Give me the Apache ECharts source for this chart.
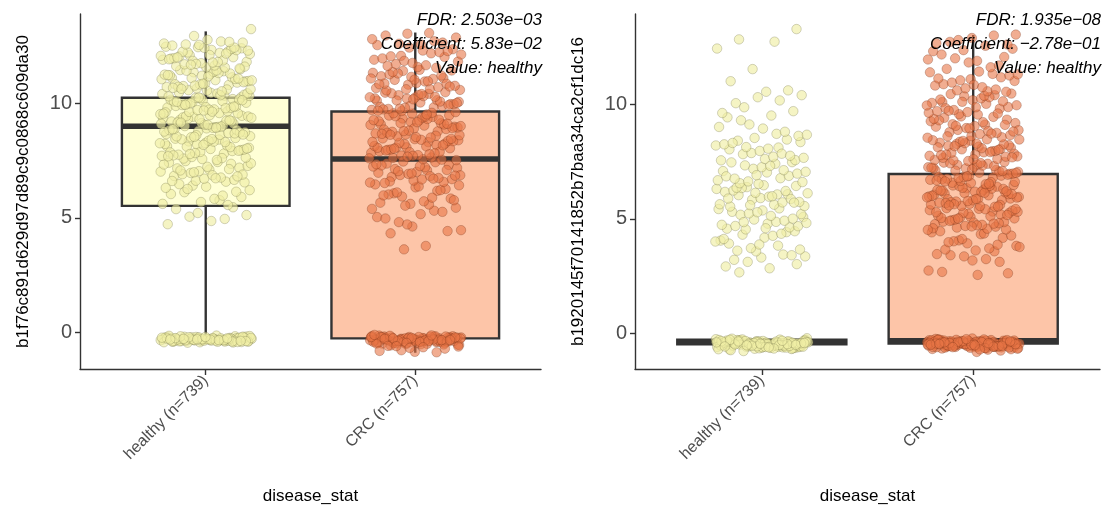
<!DOCTYPE html>
<html><head><meta charset="utf-8">
<script src="https://cdn.jsdelivr.net/npm/echarts@6/dist/echarts.min.js"></script>
<style>html,body{margin:0;padding:0;background:#fff}#c{width:1106px;height:510px}</style>
</head><body><div id="c"></div>
<script>
const categories = ['healthy (n=739)', 'CRC (n=757)'];
const yTickValues = [0, 5, 10];
const xTickValues = [1, 2];
const yTitles = ['b1f76c891d629d97d89c9c0868c609da30', 'b1920145f70141852b7baa34ca2cf1dc16'];
const xTitle = 'disease_stat';
const annotations = [
  ['FDR: 2.503e\u221203', 'Coefficient: 5.83e\u221202', 'Value: healthy'],
  ['FDR: 1.935e\u221208', 'Coefficient: \u22122.78e\u221201', 'Value: healthy']
];
// box stats: [min, Q1, median, Q3, max]
const box1Healthy = [-0.18, 5.52, 9.0, 10.25, 13.15];
const box1CRC = [-0.9, -0.27, 7.57, 9.65, 13.1];
const box2Healthy = [-0.38, -0.48, -0.38, -0.28, -0.38];
const box2CRC = [-0.45, -0.45, -0.33, 6.96, 13.04];

const h1Zero = [-0.31,-0.22,-0.40,-0.28,-0.35,-0.18,-0.44,-0.26,-0.33,-0.38,-0.21,-0.30,-0.42,-0.25,-0.36,-0.29,-0.15,-0.39,-0.27,-0.34,
-0.23,-0.41,-0.32,-0.19,-0.37,-0.28,-0.45,-0.24,-0.31,-0.35,-0.20,-0.43,-0.29,-0.26,-0.38,-0.33,-0.17,-0.30,-0.40,-0.27,
-0.36,-0.22,-0.34,-0.46,-0.25,-0.31,-0.39,-0.28,-0.21,-0.35,-0.42,-0.30,-0.24,-0.37,-0.16,-0.33,-0.29,-0.41,-0.26,-0.32,
-0.38,-0.23,-0.44,-0.27,-0.35,-0.20,-0.31,-0.40,-0.29,-0.34,-0.25,-0.37,-0.18,-0.43,-0.30,-0.28,-0.36,-0.22,-0.39,-0.33,
-0.26,-0.41,-0.31,-0.24,-0.35,-0.29,-0.38,-0.21,-0.32,-0.27];
const h1Spread = [4.72,4.95,5.05,5.12,4.86,5.38,5.46,5.21,
5.61,5.77,6.12,5.91,6.36,6.04,5.56,6.41,6.21,5.83,6.47,6.14,5.69,6.31,5.97,6.26,
6.55,7.11,6.83,7.36,6.62,7.02,7.44,6.91,7.19,6.71,7.41,6.58,6.96,7.27,6.86,7.16,6.66,7.04,7.33,6.76,7.48,6.89,7.23,6.61,7.13,6.99,7.38,6.73,7.07,6.81,
7.57,8.13,7.81,8.34,7.63,8.01,8.46,7.92,8.21,7.71,8.42,7.59,7.96,8.27,7.86,8.16,7.66,8.06,8.33,7.76,8.49,7.88,8.23,7.61,8.11,7.98,8.37,7.73,8.09,7.83,8.26,7.53,8.43,7.93,8.19,7.69,8.31,7.79,8.03,8.44,
8.56,9.12,8.79,9.36,8.63,9.01,9.46,8.91,9.21,8.71,9.42,8.57,8.96,9.27,8.84,9.14,8.66,9.04,9.33,8.74,9.49,8.89,9.23,8.61,9.11,8.97,9.39,8.73,9.07,8.83,9.24,8.52,9.43,8.93,9.17,8.69,9.31,8.77,8.99,9.44,8.64,9.06,8.87,9.26,8.54,9.37,8.94,9.16,
9.57,10.13,9.82,10.34,9.63,10.03,10.46,9.89,10.19,9.71,10.41,9.58,9.96,10.27,9.84,10.16,9.66,10.06,10.33,9.74,10.48,9.87,10.23,9.61,10.11,9.98,10.38,9.73,10.09,9.81,10.24,9.53,10.43,9.93,10.17,9.69,10.31,9.79,10.01,10.44,9.64,10.07,9.86,10.26,9.55,10.36,9.94,10.14,
10.56,11.12,10.81,11.36,10.62,11.02,11.46,10.91,11.21,10.72,11.41,10.58,10.97,11.28,10.84,11.14,10.66,11.06,11.33,10.76,11.49,10.88,11.23,10.61,11.11,10.98,11.38,10.73,11.07,10.83,11.26,10.53,11.43,10.93,11.18,10.68,11.31,10.78,11.01,11.44,10.64,11.09,10.86,11.24,
11.57,12.11,11.82,12.34,11.63,12.02,12.46,11.91,12.21,11.71,12.41,11.58,11.96,12.27,11.86,12.16,11.66,12.06,12.33,11.76,12.48,11.88,12.23,11.61,12.12,11.98,12.38,11.73,12.08,11.81,12.26,11.53,12.43,11.93,12.18,11.69,12.31,11.79,12.01,12.44,
12.56,12.62,12.71,12.58,12.66,12.78,12.53,12.69,12.95,13.25];

const c1Zero = [-0.28,-0.41,-0.19,-0.35,-0.52,-0.24,-0.31,-0.46,-0.22,-0.38,-0.15,-0.43,-0.29,-0.55,-0.26,-0.33,-0.48,-0.21,-0.37,-0.3,
-0.44,-0.18,-0.34,-0.5,-0.27,-0.4,-0.23,-0.36,-0.58,-0.25,-0.32,-0.45,-0.2,-0.39,-0.29,-0.53,-0.24,-0.42,-0.31,-0.17,
-0.37,-0.47,-0.26,-0.34,-0.22,-0.41,-0.3,-0.56,-0.28,-0.36,-0.19,-0.44,-0.33,-0.25,-0.49,-0.38,-0.21,-0.32,-0.43,-0.27,
-0.35,-0.51,-0.23,-0.4,-0.29,-0.46,-0.18,-0.34,-0.24,-0.39,-0.31,-0.54,-0.26,-0.42,-0.2,-0.37,-0.3,-0.48,-0.22,-0.33,
-0.45,-0.28,-0.36,-0.16,-0.41,-0.25,-0.5,-0.32,-0.38,-0.23,-0.43,-0.29,-0.35,-0.47,-0.21,-0.4,-0.27,-0.34,-0.86,-0.82,
-0.88,-0.79,-0.63,-0.66,-0.6,-0.72,-0.69,-0.12,-0.14,-0.61];
const c1Spread = [3.62,4.46,3.77,4.32,4.42,
4.62,5.03,5.31,4.81,5.44,5.16,4.97,5.26,4.71,5.39,
5.58,6.07,5.84,6.33,5.66,6.18,5.93,6.42,5.72,6.02,6.26,5.61,6.46,5.88,6.11,5.77,6.37,5.98,6.21,5.53,
6.54,7.08,6.79,7.31,6.63,6.97,7.43,6.87,7.18,6.68,7.37,6.57,6.92,7.24,6.82,7.13,6.69,7.01,7.29,6.74,7.46,6.86,7.21,6.59,7.09,6.94,7.34,6.71,7.04,6.84,7.26,6.52,
7.54,8.08,7.84,8.31,7.62,8.04,8.44,7.91,8.18,7.72,8.39,7.56,7.97,8.24,7.87,8.14,7.64,8.07,8.35,7.74,8.47,7.89,8.22,7.6,8.12,7.99,8.36,7.71,8.06,7.82,8.28,7.52,8.41,7.94,8.17,7.67,8.32,7.78,8.02,8.45,
8.53,9.09,8.78,9.34,8.61,9.03,9.47,8.88,9.19,8.69,9.41,8.56,8.98,9.26,8.86,9.13,8.64,9.06,9.32,8.76,9.48,8.91,9.22,8.59,9.14,8.95,9.38,8.72,9.08,8.81,9.27,8.51,9.44,8.92,9.18,8.67,9.29,8.79,9.01,9.43,8.63,9.11,
9.56,10.12,9.83,10.36,9.62,10.04,10.47,9.88,10.21,9.72,10.42,9.57,9.97,10.26,9.85,10.14,9.67,10.07,10.32,9.76,10.49,9.89,10.22,9.59,10.13,9.96,10.37,9.74,10.08,9.81,10.27,9.52,10.44,9.92,10.18,9.68,10.29,9.77,10.02,10.41,
10.57,11.11,10.82,11.34,10.63,11.03,11.44,10.89,11.19,10.71,11.42,10.59,10.96,11.27,10.86,11.16,10.67,11.07,11.31,10.77,11.47,10.87,11.22,10.62,11.09,10.97,11.37,10.74,11.04,10.84,
11.56,12.08,11.83,12.31,11.64,12.03,12.44,11.91,12.19,11.72,12.37,11.59,11.97,12.24,11.86,12.14,11.67,12.06,12.29,11.77,
12.55,12.72,12.61,12.88,12.58,12.97,12.66,13.05,12.81,13.08];

const h2Zero = [-0.42,-0.55,-0.31,-0.48,-0.63,-0.37,-0.45,-0.58,-0.29,-0.51,-0.4,-0.67,-0.35,-0.47,-0.6,-0.33,-0.52,-0.44,-0.71,-0.38,
-0.49,-0.26,-0.56,-0.41,-0.64,-0.36,-0.5,-0.43,-0.59,-0.32,-0.46,-0.54,-0.39,-0.68,-0.3,-0.53,-0.45,-0.61,-0.34,-0.48,
-0.57,-0.4,-0.22,-0.5,-0.44,-0.65,-0.37,-0.52,-0.28,-0.47,-0.56,-0.41,-0.74,-0.35,-0.49,-0.6,-0.43,-0.31,-0.54,-0.46,
-0.39,-0.62,-0.5,-0.33,-0.57,-0.44,-0.69,-0.38,-0.53,-0.42,-0.27,-0.58,-0.47,-0.36,-0.63,-0.51,-0.4,-0.55,-0.3,-0.45,
-0.66,-0.41,-0.52,-0.34,-0.59,-0.48,-0.24,-0.56,-0.43,-0.7,-0.37,-0.5,-0.45,-0.61,-0.32,-0.54,-0.46,-0.39,-0.64,-0.49,
-0.42,-0.57,-0.35,-0.52,-0.78,-0.44,-0.6,-0.29,-0.48,-0.55,-0.4,-0.67,-0.36,-0.51,-0.46,-0.58,-0.33,-0.53,-0.43,-0.62];
const h2Spread = [2.66,3.02,3.31,2.92,3.44,3.12,3.36,2.84,3.21,3.41,
3.58,4.05,3.83,4.31,3.66,4.18,3.92,4.42,3.72,4.01,4.26,3.61,4.46,3.88,4.12,4.35,
4.54,5.08,4.79,5.31,4.63,4.97,5.43,4.87,5.18,4.68,5.37,4.57,4.92,5.24,4.82,5.13,4.69,5.01,5.29,4.74,5.46,4.86,5.21,4.59,
5.54,6.08,5.84,6.31,5.62,6.04,6.44,5.91,6.18,5.72,6.39,5.56,5.97,6.24,5.87,6.14,5.64,6.07,6.35,5.74,6.47,5.89,6.22,5.6,6.12,5.99,6.36,5.71,
6.53,7.09,6.78,7.34,6.61,7.03,7.47,6.88,7.19,6.69,7.41,6.56,6.98,7.26,6.86,7.13,6.64,7.06,7.32,6.76,7.48,6.91,
7.56,8.12,7.83,8.36,7.62,8.04,8.47,7.88,8.21,7.72,8.42,7.57,7.97,8.26,7.85,8.14,7.67,8.07,8.32,7.76,
8.54,9.02,8.72,9.31,8.63,8.95,9.44,8.81,9.13,8.68,
9.52,10.06,9.71,10.32,9.63,10.18,9.88,10.41,
10.56,11.02,10.62,
11.55,12.45,12.75,12.85,13.3];

const c2Zero = [-0.47,-0.34,-0.58,-0.41,-0.52,-0.29,-0.63,-0.44,-0.37,-0.55,-0.49,-0.31,-0.66,-0.4,-0.53,-0.45,-0.27,-0.6,-0.38,-0.5,
-0.43,-0.57,-0.33,-0.48,-0.69,-0.36,-0.54,-0.42,-0.61,-0.3,-0.51,-0.46,-0.39,-0.64,-0.35,-0.56,-0.44,-0.25,-0.59,-0.47,
-0.4,-0.53,-0.32,-0.62,-0.45,-0.37,-0.72,-0.49,-0.41,-0.55,-0.28,-0.5,-0.43,-0.65,-0.34,-0.58,-0.46,-0.38,-0.52,-0.3,
-0.6,-0.44,-0.36,-0.67,-0.48,-0.42,-0.54,-0.33,-0.57,-0.45,-0.23,-0.61,-0.39,-0.5,-0.47,-0.35,-0.63,-0.41,-0.56,-0.31,
-0.52,-0.44,-0.7,-0.38,-0.49,-0.59,-0.34,-0.46,-0.27,-0.55,-0.42,-0.64,-0.37,-0.51,-0.45,-0.32,-0.58,-0.4,-0.76,-0.48,
-0.43,-0.53,-0.36,-0.62,-0.47,-0.29,-0.56,-0.41,-0.68,-0.39,-0.5,-0.44,-0.33,-0.6,-0.46,-0.54,-0.38,-0.82,-0.42,-0.57,
-0.35,-0.49,-0.65,-0.43,-0.3,-0.52,-0.45,-0.59,-0.37,-0.48,-0.71,-0.4,-0.55,-0.26,-0.5,-0.44,-0.61,-0.36,-0.53,-0.47];
const c2Spread = [2.55,2.68,3.12,3.36,2.74,3.24,3.41,2.62,3.18,3.46,
3.58,4.06,3.82,4.33,3.66,4.17,3.93,4.41,3.71,4.02,4.27,3.62,4.46,3.87,4.12,3.77,4.36,3.98,
4.54,5.09,4.77,5.32,4.62,5.02,5.44,4.88,5.19,4.69,5.38,4.57,4.94,5.26,4.84,5.14,4.66,5.06,5.31,4.74,5.47,4.86,5.22,4.59,5.11,4.97,5.36,4.72,5.04,4.81,5.27,4.52,5.42,4.91,5.17,4.67,5.29,4.79,5.01,5.43,
5.56,6.11,5.82,6.34,5.63,6.03,6.46,5.89,6.19,5.71,6.41,5.57,5.96,6.27,5.86,6.16,5.66,6.06,6.32,5.76,6.48,5.88,6.23,5.61,6.13,5.98,6.37,5.73,6.08,5.81,6.26,5.53,6.43,5.93,6.18,5.69,6.31,5.78,6.01,6.44,5.64,6.09,5.87,6.24,5.54,6.36,5.94,6.14,5.59,6.21,
6.57,7.12,6.81,7.36,6.62,7.02,7.46,6.89,7.21,6.71,7.41,6.58,6.97,7.28,6.84,7.14,6.66,7.06,7.33,6.76,7.49,6.88,7.23,6.61,7.11,6.98,7.38,6.73,7.07,6.83,7.26,6.52,7.43,6.93,7.17,6.68,7.31,6.78,7.01,7.44,6.64,7.09,6.86,7.24,6.54,
7.56,8.11,7.83,8.33,7.62,8.04,8.47,7.91,8.19,7.72,8.42,7.58,7.96,8.28,7.85,8.16,7.67,8.06,8.31,7.76,8.48,7.89,8.22,7.61,8.13,7.97,8.37,7.73,8.09,7.81,8.26,7.53,8.44,7.92,8.18,7.69,8.29,7.79,8.02,8.41,
8.55,9.12,8.79,9.34,8.62,9.03,9.46,8.89,9.19,8.71,9.42,8.57,8.97,9.27,8.84,9.14,8.66,9.06,9.31,8.76,9.48,8.88,9.23,8.61,9.11,8.96,9.37,8.73,9.07,8.82,
9.56,10.11,9.82,10.36,9.64,10.03,10.46,9.89,10.19,9.71,10.41,9.58,9.97,10.27,9.84,10.14,9.67,10.07,10.32,9.76,10.48,9.88,10.22,9.61,10.12,9.96,10.38,9.73,
10.56,11.11,10.83,11.34,10.62,11.03,11.44,10.89,11.19,10.71,11.41,10.58,10.96,11.27,10.86,11.14,10.66,11.06,11.32,10.76,
11.56,12.08,11.84,12.33,11.63,12.02,12.44,11.91,12.19,11.71,12.38,11.97,
12.57,12.74,12.63,12.91,12.68,13.02,12.82,13.06];

const FONT = '"Liberation Sans", Arial, sans-serif';
const boxFill = ['#ffffd6', '#fdc5a8'];
const ptFill = ['rgba(240,238,165,0.82)', 'rgba(232,116,70,0.74)'];
const ptBorder = ['rgba(105,105,65,0.6)', 'rgba(105,42,16,0.6)'];

// deterministic jitter (display offset only)
function jittered(pos, values, seed) {
  return values.map((v, i) => [pos + ((((i + 1) * 0.6180339887 + seed) % 1) - 0.5) * 0.44, v]);
}

function renderBox(params, api) {
  const x = api.value(0);
  const pMin = api.coord([x, api.value(1)]);
  const pQ1 = api.coord([x, api.value(2)]);
  const pMed = api.coord([x, api.value(3)]);
  const pQ3 = api.coord([x, api.value(4)]);
  const pMax = api.coord([x, api.value(5)]);
  const w = api.size([0.8, 0])[0];
  const cx = pMed[0];
  const stroke = '#333333';
  const children = [];
  if (pMax[1] < pQ3[1]) children.push({type: 'line', shape: {x1: cx, y1: pMax[1], x2: cx, y2: pQ3[1]}, style: {stroke, lineWidth: 2.4}});
  if (pMin[1] > pQ1[1]) children.push({type: 'line', shape: {x1: cx, y1: pQ1[1], x2: cx, y2: pMin[1]}, style: {stroke, lineWidth: 2.4}});
  children.push({type: 'rect', shape: {x: cx - w / 2, y: pQ3[1], width: w, height: pQ1[1] - pQ3[1]},
    style: {fill: boxFill[params.dataIndex], stroke, lineWidth: 2.4}});
  children.push({type: 'line', shape: {x1: cx - w / 2, y1: pMed[1], x2: cx + w / 2, y2: pMed[1]}, style: {stroke, lineWidth: 5.5}});
  return {type: 'group', children};
}

const panels = [
  {left: 80, width: 461, ymin: -1.61, ymax: 13.91, boxes: [box1Healthy, box1CRC], pts: [[h1Zero, h1Spread], [c1Zero, c1Spread]]},
  {left: 635, width: 465, ymin: -1.565, ymax: 13.96, boxes: [box2Healthy, box2CRC], pts: [[h2Zero, h2Spread], [c2Zero, c2Spread]]}
];

const grid = [], xAxis = [], yAxis = [], series = [], graphic = [];
panels.forEach((p, k) => {
  grid.push({left: p.left, top: 14, width: p.width, height: 357});
  xAxis.push({
    gridIndex: k, type: 'value', min: 0.4, max: 2.6,
    axisLine: {show: true, onZero: false, lineStyle: {color: '#333', width: 1.4}},
    axisTick: {show: true, customValues: xTickValues, length: 6, lineStyle: {color: '#333', width: 1.4}},
    axisLabel: {show: true, customValues: xTickValues, rotate: 45, margin: 9, fontSize: 16, color: '#4d4d4d', fontFamily: FONT,
      formatter: v => categories[Math.round(v) - 1] || ''},
    splitLine: {show: false},
    name: xTitle, nameLocation: 'middle', nameGap: 119, nameMoveOverlap: false,
    nameTextStyle: {fontSize: 17, color: '#000', fontFamily: FONT}
  });
  yAxis.push({
    gridIndex: k, type: 'value', min: p.ymin, max: p.ymax,
    axisLine: {show: true, onZero: false, lineStyle: {color: '#333', width: 1.4}},
    axisTick: {show: true, customValues: yTickValues, length: 5, lineStyle: {color: '#333', width: 1.4}},
    axisLabel: {show: true, customValues: yTickValues, margin: 8, fontSize: 20, color: '#4d4d4d', fontFamily: FONT},
    splitLine: {show: false},
    name: yTitles[k], nameLocation: 'middle', nameGap: 48, nameMoveOverlap: false,
    nameTextStyle: {fontSize: 17, color: '#000', fontFamily: FONT}
  });
  series.push({
    type: 'custom', xAxisIndex: k, yAxisIndex: k, z: 1, silent: true,
    renderItem: renderBox,
    encode: {x: 0, y: [1, 2, 3, 4, 5]},
    data: p.boxes.map((b, i) => [i + 1].concat(b))
  });
  p.pts.forEach((grp, i) => {
    series.push({
      type: 'scatter', xAxisIndex: k, yAxisIndex: k, z: 3, silent: true,
      symbol: 'circle', symbolSize: 9.5,
      itemStyle: {color: ptFill[i], borderColor: ptBorder[i], borderWidth: 0.6},
      data: jittered(i + 1, grp[0], 0.11 + k * 0.3 + i * 0.2).concat(jittered(i + 1, grp[1], 0.47 + k * 0.17 + i * 0.29))
    });
  });
  const right = p.left + p.width + 1;
  annotations[k].forEach((t, j) => {
    graphic.push({type: 'text', z: 10, silent: true, style: {text: t, x: right, y: 20 + j * 24, align: 'right', verticalAlign: 'middle',
      textAlign: 'right', textVerticalAlign: 'middle', font: 'italic 17px ' + FONT, fill: '#000'}});
  });
});

const chart = echarts.init(document.getElementById('c'), null, {renderer: 'canvas'});
chart.setOption({animation: false, backgroundColor: '#fff', grid, xAxis, yAxis, series, graphic});
</script>
</body></html>
